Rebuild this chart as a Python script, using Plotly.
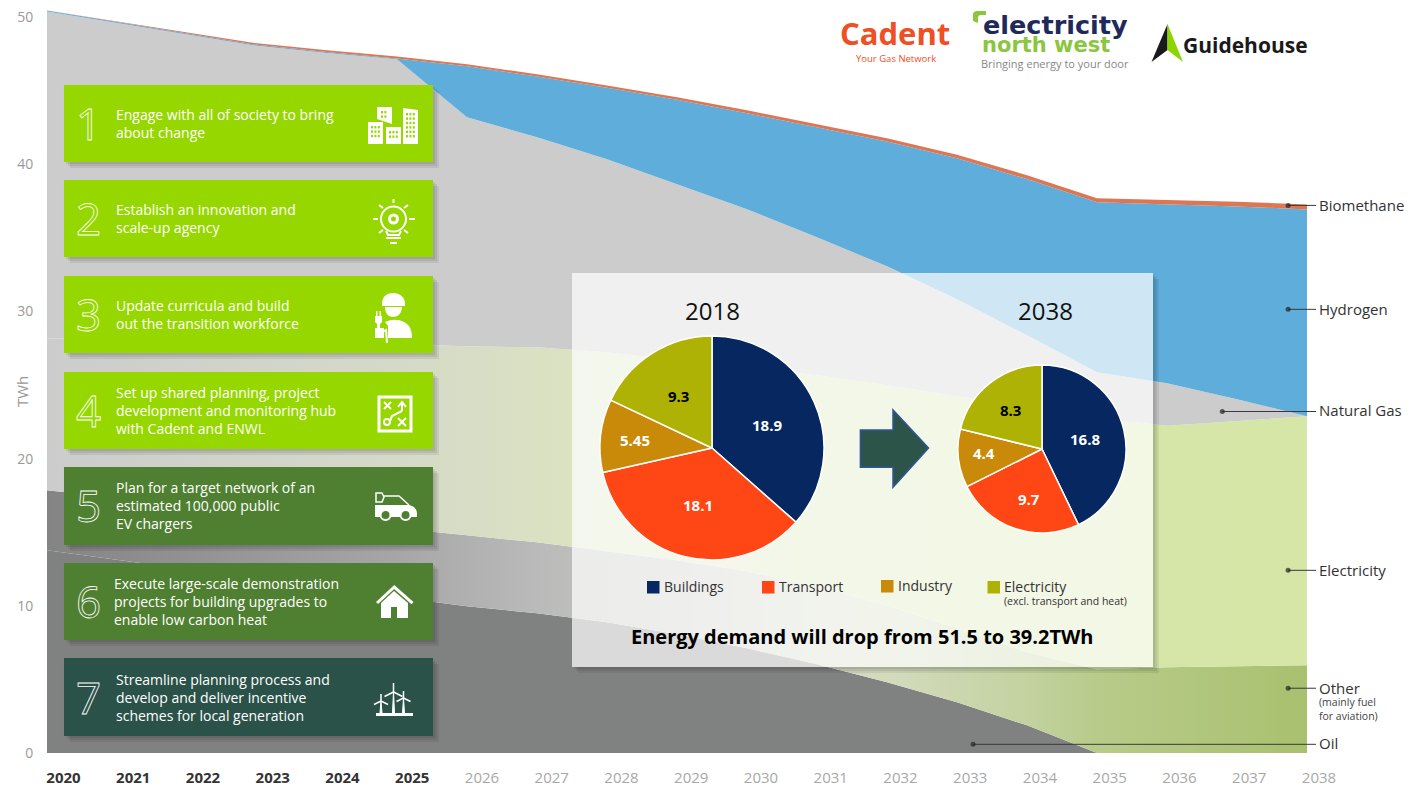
import plotly.graph_objects as go

# ---------- data ----------
YEARS = list(range(2020, 2039))
OIL = [13.77, 13.12, 12.48, 11.83, 11.19, 10.58, 9.97, 9.49, 8.88, 8.06, 7.11, 6.03, 4.80, 3.44, 1.88, 0, 0, 0, 0]
OTHER = [4.08, 4.21, 4.35, 4.45, 4.55, 4.69, 4.82, 4.82, 4.82, 5.03, 5.23, 5.29, 5.23, 5.03, 4.96, 5.69, 5.82, 5.89, 5.96]
ELECTRICITY = [10.32, 10.77, 11.21, 11.69, 12.16, 12.50, 12.84, 13.25, 13.52, 13.59, 13.86, 14.34, 14.95, 15.76, 16.65, 17.05, 16.41, 16.64, 16.91]
NATURAL_GAS = [22.20, 21.51, 20.80, 20.07, 19.65, 19.36, 15.56, 14.27, 13.11, 11.96, 10.74, 9.37, 8.08, 6.59, 4.89, 3.12, 2.89, 1.50, 0]
HYDROGEN = [0.07, 0.07, 0.07, 0.07, 0.07, 0.05, 3.46, 4.13, 4.86, 5.73, 6.52, 7.47, 8.48, 9.58, 10.61, 11.55, 12.17, 13.10, 14.06]
BIOMETHANE = [0.01, 0.03, 0.05, 0.10, 0.12, 0.14, 0.14, 0.15, 0.16, 0.18, 0.20, 0.20, 0.22, 0.24, 0.26, 0.27, 0.30, 0.32, 0.34]

PIE_LABELS = ["Buildings", "Transport", "Industry", "Electricity"]
PIE_2018 = [18.9, 18.1, 5.45, 9.3]
PIE_2038 = [16.8, 9.7, 4.4, 8.3]
PIE_COLORS = ["#06275f", "#ff4715", "#c98a0a", "#adb204"]
PIE_TEXT_COLORS = ["#ffffff", "#ffffff", "#ffffff", "#000000"]

STEPS = [
    "Engage with all of society to bring<br>about change",
    "Establish an innovation and<br>scale-up agency",
    "Update curricula and build<br>out the transition workforce",
    "Set up shared planning, project<br>development and monitoring hub<br>with Cadent and ENWL",
    "Plan for a target network of an<br>estimated 100,000 public<br>EV chargers",
    "Execute large-scale demonstration<br>projects for building upgrades to<br>enable low carbon heat",
    "Streamline planning process and<br>develop and deliver incentive<br>schemes for local generation",
]

CALLOUT_NAMES = ["Biomethane", "Hydrogen", "Natural Gas", "Electricity", "Other", "Oil"]
CALLOUT_YEAR = [2037.73, 2037.73, 2036.79, 2037.73, 2037.73, 2033.23]
CALLOUT_VALUE = [37.2, 30.14, 23.2, 12.41, 4.40, 0.59]

# ---------- geometry helpers (pixel position -> paper fraction) ----------
W, H = 1423, 787
L, B = 47, 34
PW, PH = W - L, H - B
PX_PER_YEAR = 70.0
PX_PER_UNIT = 14.72
FONT = "Open Sans"


def px(x):
    return (x - L) / PW


def py(y):
    return 1 - y / PH


def yr(x):
    return 2020 + (x - L) / PX_PER_YEAR


def val(y):
    return (PH - y) / PX_PER_UNIT


def pth(s):
    out, is_x = [], True
    for t in s.split():
        if t.isalpha():
            out.append(t)
            is_x = True
        else:
            v = float(t)
            out.append(f"{px(v):.5f}," if is_x else f"{py(v):.5f}")
            is_x = not is_x
    return " ".join(out).replace(", ", ",")


def shp(s, fill=None, line=None, w=0):
    return dict(type="path", xref="paper", yref="paper", path=pth(s), layer="above",
                fillcolor=fill or "rgba(0,0,0,0)",
                line=dict(color=line or "rgba(0,0,0,0)", width=w))


def rect(x0, y0, x1, y1):
    return f"M {x0} {y0} L {x1} {y0} L {x1} {y1} L {x0} {y1} Z"


def circ(cx, cy, r):
    k = 0.5523 * r
    return (f"M {cx-r} {cy} C {cx-r} {cy-k} {cx-k} {cy-r} {cx} {cy-r} "
            f"C {cx+k} {cy-r} {cx+r} {cy-k} {cx+r} {cy} "
            f"C {cx+r} {cy+k} {cx+k} {cy+r} {cx} {cy+r} "
            f"C {cx-k} {cy+r} {cx-r} {cy+k} {cx-r} {cy} Z")


def note(text, x, y, size=14, color="#333333", anchor="left", align=None, family=FONT, angle=0):
    return dict(text=text, x=px(x), y=py(y), xref="paper", yref="paper", showarrow=False,
                xanchor=anchor, yanchor="middle", align=align or anchor, textangle=angle,
                font=dict(size=size, color=color, family=family), borderpad=0, borderwidth=0)


def shadow_pts(x0, y0, x1, y1, d):
    return [(x1, y0 + d), (x1 + d, y0 + d), (x1 + d, y1 + d), (x0 + d, y1 + d), (x0 + d, y1), (x1, y1)]


fig = go.Figure()

# ---------- stacked areas ----------
hgrad = lambda stops: dict(type="horizontal", start=2020, stop=2038,
                           colorscale=[[(y - 2020) / 18, c] for y, c in stops])
base = dict(x=YEARS, mode="lines", stackgroup="one", line=dict(width=0), hoverinfo="x+y")
fig.add_trace(go.Scatter(y=OIL, name="Oil", fillcolor="#808281", **base))
fig.add_trace(go.Scatter(y=OTHER, name="Other", fillgradient=hgrad(
    [(2020, "#848484"), (2025, "#a6a6a6"), (2027, "#bababa"), (2030, "#ccd0c4"), (2032, "#d3dbbd"),
     (2034, "#c3d2a0"), (2035, "#b8cb8a"), (2038, "#a9c06f")]), **base))
fig.add_trace(go.Scatter(y=ELECTRICITY, name="Electricity", fillgradient=hgrad(
    [(2020, "#cccccc"), (2025, "#d5d9c8"), (2028, "#dbe4c0"), (2032, "#d6e5ad"), (2038, "#d5e6a6")]), **base))
fig.add_trace(go.Scatter(y=NATURAL_GAS, name="Natural Gas", fillcolor="#cccccc", **base))
fig.add_trace(go.Scatter(y=HYDROGEN, name="Hydrogen", fillcolor="#5fadda", **base))
fig.add_trace(go.Scatter(y=BIOMETHANE, name="Biomethane", fillcolor="#dc7653", **base))

# ---------- callout leaders ----------
for yv, v, nm in zip(CALLOUT_YEAR, CALLOUT_VALUE, CALLOUT_NAMES):
    fig.add_trace(go.Scatter(x=[yv, yr(1316)], y=[v, v], mode="lines+markers", name=nm, hoverinfo="skip",
                             line=dict(color="#3a3a3a", width=1),
                             marker=dict(size=[5, 0], color="#222222", line=dict(width=0))))

# ---------- translucent panel (a trace so the pies can sit on top of it) ----------
PANEL = (572, 273, 1153, 667)
for d in (2, 4, 6):
    pts = shadow_pts(*PANEL, d)
    fig.add_trace(go.Scatter(x=[yr(p[0]) for p in pts] + [yr(pts[0][0])],
                             y=[val(p[1]) for p in pts] + [val(pts[0][1])],
                             mode="none", fill="toself", fillcolor="rgba(0,0,0,0.07)", hoverinfo="skip"))
x0, y0, x1, y1 = PANEL
fig.add_trace(go.Scatter(x=[yr(x0), yr(x1), yr(x1), yr(x0), yr(x0)], y=[val(y0), val(y0), val(y1), val(y1), val(y0)],
                         mode="none", fill="toself", fillcolor="rgba(255,255,255,0.7)", hoverinfo="skip"))


# ---------- pies ----------
def pie(values, cx, cy, r, name):
    fig.add_trace(go.Pie(
        values=values, labels=PIE_LABELS, name=name, sort=False, direction="clockwise", rotation=0,
        textinfo="none",
        marker=dict(colors=PIE_COLORS, line=dict(color="#ffffff", width=1.5)),
        domain=dict(x=[px(cx - r), px(cx + r)], y=[py(cy + r), py(cy - r)]),
        hoverinfo="label+value", showlegend=False))


pie(PIE_2018, 712, 448, 112, "2018")
pie(PIE_2038, 1042, 449, 84, "2038")

shapes, notes = [], []

LABEL_POS_2018 = [(767, 425), (698, 505), (635, 440), (678.5, 396)]
LABEL_POS_2038 = [(1085, 439), (1029, 499), (984, 453), (1010, 410)]
for vals, pos in ((PIE_2018, LABEL_POS_2018), (PIE_2038, LABEL_POS_2038)):
    for v, (lx, ly), c in zip(vals, pos, PIE_TEXT_COLORS):
        notes.append(note(f"<b>{v}</b>", lx, ly, size=15, color=c, anchor="center"))

# ---------- action boxes ----------
BOXES = [(85, 162), (180, 257), (276, 353), (372, 449), (467, 545), (563, 640), (658, 736)]
BOX_COLORS = ["#96d700"] * 4 + ["#4f7f31"] * 2 + ["#2a5249"]
TEXT_X = [116, 116, 116, 116, 116, 113.5, 116]
for i, ((top, bot), col) in enumerate(zip(BOXES, BOX_COLORS)):
    for d in (2, 4, 6):
        s = shadow_pts(64, top, 433, bot, d)
        shapes.append(shp("M " + " L ".join(f"{a} {b}" for a, b in s) + " Z", fill="rgba(0,0,0,0.07)"))
    shapes.append(shp(rect(64, top, 433, bot), fill=col))
    cy = (top + bot) / 2
    notes.append(note(STEPS[i], TEXT_X[i], cy, size=14, color="#ffffff"))
    notes.append(note(f'<span style="fill-opacity:0;stroke:#ffffff;stroke-width:0.8px">{i + 1}</span>',
                      88, cy - 0.5, size=44, color="#ffffff", anchor="center"))

G = "#96d700"
W_ = "#ffffff"
# 1 buildings
shapes += [shp(rect(368, 122, 383, 144), fill=W_), shp("M 377 107 L 392 107 L 392 124 L 377 119 Z", fill=W_),
           shp(rect(386, 127, 401, 144), fill=W_), shp("M 403 108 L 418 110 L 418 144 L 403 144 Z", fill=W_)]
for bx, by, nx, ny in [(371, 126, 3, 3), (381, 111, 2, 2), (389, 131, 3, 2), (406, 113, 3, 6)]:
    for a in range(nx):
        for b in range(ny):
            shapes.append(shp(rect(bx + a * 3.4, by + b * 4.4, bx + a * 3.4 + 2, by + b * 4.4 + 2.4), fill=G))
# 2 bulb
shapes.append(shp(circ(393.5, 219, 12.5), line=W_, w=2))
shapes.append(shp(circ(393.5, 219, 4), line=W_, w=3))
shapes.append(shp("M 386 231 L 388 235 L 399 235 L 401 231", line=W_, w=2))
shapes.append(shp(rect(386, 237, 401, 239), fill=W_))
shapes.append(shp(rect(390, 242, 397, 244), fill=W_))
for s in ["M 393.5 199 L 393.5 203", "M 373 219 L 378 219", "M 409 219 L 415 219", "M 379 205 L 383 208",
          "M 404 208 L 408 205", "M 379 233 L 383 230", "M 404 230 L 408 233"]:
    shapes.append(shp(s, line=W_, w=2))
# 3 worker
shapes.append(shp("M 382 304 C 382 297 386 293 393 293 C 400 293 405 297 405 304 L 405 306 L 382 306 Z", fill=W_))
shapes.append(shp("M 385 307 L 402 307 C 402 313 398 317 393 317 C 388 317 385 313 385 307 Z", fill=W_))
shapes.append(shp("M 385 322 C 392 319 398 319 404 322 C 410 325 412 330 412 338 L 388 338 L 388 326 Z", fill=W_))
shapes.append(shp("M 375 316 L 382 316 L 382 322 L 380 324 L 380 330 L 377 330 L 377 324 L 375 322 Z", fill=W_))
shapes.append(shp(rect(376, 311, 377.5, 316), fill=W_))
shapes.append(shp(rect(379.5, 311, 381, 316), fill=W_))
shapes.append(shp("M 378 330 L 378 334 L 386 330 L 387 343", line=W_, w=2))
shapes.append(shp(rect(375, 328, 384, 338), fill=W_))
# 4 plan
shapes.append(shp(rect(379, 397, 411, 431), line=W_, w=3))
for s in ["M 384 402 L 391 409", "M 391 402 L 384 409", "M 398 418 L 406 426", "M 406 418 L 398 426",
          "M 402 411 L 402 403", "M 398 407 L 402 402 L 406 407", "M 402 411 L 392 416 L 390 421"]:
    shapes.append(shp(s, line=W_, w=2))
shapes.append(shp(circ(387, 422, 3), line=W_, w=2))
# 5 car
shapes.append(shp("M 375 505 L 409 505 C 414 506 417 509 417 514 L 417 517 L 375 517 Z", fill=W_))
shapes.append(shp("M 383 496 L 399 496 L 409 505", line=W_, w=1.5))
shapes.append(shp("M 376 493 L 382 493 L 384 497 L 382 502 L 376 502 Z", line=W_, w=1.5))
for cx in (385.5, 405.5):
    shapes.append(shp(circ(cx, 515, 5), fill="#4f7f31", line=W_, w=2))
# 6 house
shapes.append(shp("M 381 603 L 394 591 L 408 603 L 408 618 L 381 618 Z", fill=W_))
shapes.append(shp(rect(391, 607, 397, 618), fill="#4f7f31"))
shapes.append(shp("M 377 603 L 394.3 587 L 412.5 603", line=W_, w=3))
# 7 turbines
shapes.append(shp(rect(376, 713, 413, 716), fill=W_))
for tx, ty, r in [(381, 701, 7), (393.5, 692, 9), (403.5, 698, 7)]:
    shapes.append(shp(f"M {tx-1} 713 L {tx} {ty} L {tx+1} 713 Z", fill=W_, line=W_, w=1))
    shapes.append(shp(f"M {tx} {ty} L {tx} {ty-r}", line=W_, w=1.5))
    shapes.append(shp(f"M {tx} {ty} L {tx-r} {ty+0.5*r}", line=W_, w=1.5))
    shapes.append(shp(f"M {tx} {ty} L {tx+r} {ty+0.5*r}", line=W_, w=1.5))

# ---------- panel content ----------
notes.append(note("2018", 712, 310.5, size=24, color="#111111", anchor="center"))
notes.append(note("2038", 1045, 310.5, size=24, color="#111111", anchor="center"))
shapes.append(shp("M 860.4 430 L 893 430 L 893 410 L 928.5 448 L 893 487.3 L 893 467.3 L 860.4 467.3 Z",
                  fill="#2c5449", line="#2f5597", w=1.5))
LEG = [(647, 581, "Buildings", 664), (762, 581, "Transport", 779), (881, 580, "Industry", 898), (987.5, 581, "Electricity", 1004)]
for (sx, sy, t, tx), c in zip(LEG, PIE_COLORS):
    shapes.append(shp(rect(sx, sy, sx + 12.5, sy + 12.5), fill=c))
    notes.append(note(t, tx, sy + 5, size=14, color="#333333"))
notes.append(note("(excl. transport and heat)", 1004, 601, size=10.5, color="#333333"))
notes.append(note("<b>Energy demand will drop from 51.5 to 39.2TWh</b>", 862, 636.5, size=20, color="#000000", anchor="center"))

# ---------- right-hand and axis labels ----------
for nm, y in [("Biomethane", 205.5), ("Hydrogen", 308.5), ("Natural Gas", 410.5), ("Electricity", 569.5), ("Other", 687.5), ("Oil", 742.5)]:
    notes.append(note(nm, 1319, y, size=15, color="#333333"))
notes.append(note("(mainly fuel<br>for aviation)", 1319, 709, size=10.5, color="#444444"))
notes.append(note("TWh", 22, 392, size=15, color="#999999", anchor="center", angle=-90))

# ---------- logos ----------
notes.append(note("<b>Cadent</b>", 895, 33, size=31, color="#f04e23", anchor="center"))
notes.append(note("Your Gas Network", 896, 58, size=9.5, color="#f04e23", anchor="center"))
shapes.append(shp("M 973 21 L 973 15 C 973 12 975 11 978 11 L 986 11 L 986 15 L 981 15 C 979 15 978 16 978 18 L 978 23 Z", fill="#8cc63f"))
notes.append(note("<b>electricity</b>", 1055.5, 25.5, size=25.5, color="#1f2a5a", anchor="center", family="DejaVu Sans"))
notes.append(note("<b>north west</b>", 1046, 45, size=21, color="#8cc63f", anchor="center", family="DejaVu Sans"))
notes.append(note("Bringing energy to your door", 1055, 63, size=11, color="#888888", anchor="center"))
shapes.append(shp("M 1167.5 24 L 1151.5 62 L 1167.5 50 Z", fill="#1a1a1a"))
shapes.append(shp("M 1167.5 24 L 1183 62 L 1167.5 50 Z", fill="#8cd600"))
notes.append(note("<b>Guidehouse</b>", 1245, 45, size=21, color="#1a1a1a", anchor="center"))

# ---------- layout ----------
tick_vals = [yr(63.5 + 69.75 * i) for i in range(len(YEARS))]
tick_text = [f'<b><span style="color:#333333">{y}</span></b>' if y <= 2025 else f'<span style="color:#a8a8a8">{y}</span>'
             for y in YEARS]

fig.update_layout(
    width=W, height=H, margin=dict(l=L, r=0, t=0, b=B, pad=0), autosize=False,
    paper_bgcolor="#ffffff", plot_bgcolor="#ffffff", showlegend=False,
    font=dict(family=FONT),
    xaxis=dict(range=[2020, yr(W)], tickvals=tick_vals, ticktext=tick_text, showgrid=False, zeroline=False,
               showline=False, ticks="outside", ticklen=11, tickcolor="rgba(0,0,0,0)", tickfont=dict(size=15, family=FONT),
               fixedrange=True, automargin=False),
    yaxis=dict(range=[0, PH / PX_PER_UNIT], tickvals=[0, 10, 20, 30, 40, 50], showgrid=False, zeroline=False,
               showline=False, ticks="outside", ticklen=10, tickcolor="rgba(0,0,0,0)",
               tickfont=dict(size=14, color="#999999", family=FONT), fixedrange=True, automargin=False),
    shapes=shapes, annotations=notes,
)

fig.write_html("out.html", config=dict(displayModeBar=False),
               post_script="document.body.style.margin='0';document.body.style.overflow='hidden';")
